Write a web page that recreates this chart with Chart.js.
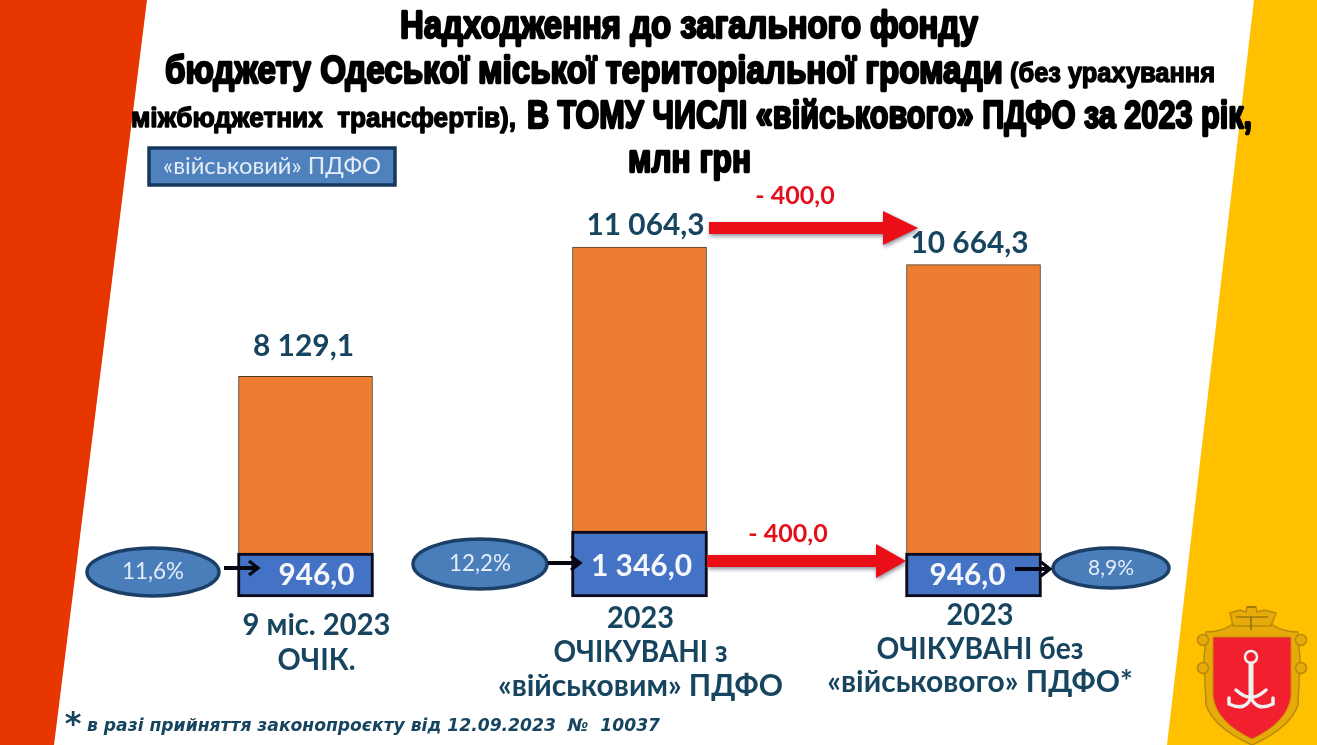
<!DOCTYPE html>
<html lang="uk">
<head>
<meta charset="utf-8">
<title>Надходження до загального фонду</title>
<script src="https://cdn.jsdelivr.net/npm/chart.js@4"></script>
<style>html,body{margin:0;padding:0;background:#fff;overflow:hidden}canvas{display:block}</style>
</head>
<body>
<canvas id="c" width="1317" height="745"></canvas>
<script>
const categories = [["9 міс. 2023", "ОЧІК."], ["2023", "ОЧІКУВАНІ з", "«військовим» ПДФО"], ["2023", "ОЧІКУВАНІ без", "«військового» ПДФО*"]];
const totalFund = [8129.1, 11064.3, 10664.3];
const militaryTax = [946.0, 1346.0, 946.0];
const militaryShare = ["11,6%", "12,2%", "8,9%"];
const changeLabel = "- 400,0";
const legendLabel = "«військовий» ПДФО";
const footnote = "в разі прийняття законопроєкту від 12.09.2023  №  10037";

const NAVY = "#17455f";
const LATO = "Lato, 'Open Sans', sans-serif";
const NARROW = "'Liberation Sans Narrow', 'Liberation Sans', sans-serif";
const TAX_AXIS_MIN = 146, TOTAL_AXIS_MIN = 3120;

const fmt = v => {
  const [a, b] = v.toFixed(1).split(".");
  return a.replace(/\B(?=(\d{3})+$)/g, " ") + "," + b;
};

function text(ctx, s, x, y, font, color, w, align) {
  ctx.font = font; ctx.fillStyle = color; ctx.textAlign = align || "center"; ctx.textBaseline = "alphabetic";
  if (w) ctx.fillText(s, x, y, w); else ctx.fillText(s, x, y);
}
function heavy(ctx, s, x, w, y, size, sw) {
  ctx.save();
  ctx.font = "bold " + size + "px " + NARROW;
  ctx.textAlign = "left"; ctx.textBaseline = "alphabetic";
  ctx.fillStyle = "#000"; ctx.strokeStyle = "#000"; ctx.lineWidth = sw; ctx.lineJoin = "bevel";
  ctx.strokeText(s, x, y, w);
  ctx.fillText(s, x, y, w);
  ctx.restore();
}
function ellipse(ctx, cx, cy, rx, ry) {
  ctx.beginPath(); ctx.ellipse(cx, cy, rx, ry, 0, 0, Math.PI * 2);
  ctx.fillStyle = "#4a7ebb"; ctx.fill();
  ctx.strokeStyle = "#1b3f66"; ctx.lineWidth = 3.5; ctx.stroke();
}
function bigArrow(ctx, x0, x1, tip, yc, hs, hh) {
  ctx.save();
  ctx.shadowColor = "rgba(40,40,70,.55)"; ctx.shadowBlur = 4; ctx.shadowOffsetY = 2; ctx.shadowOffsetX = 1;
  ctx.fillStyle = "#ea0f17";
  ctx.beginPath();
  ctx.moveTo(x0, yc - hs); ctx.lineTo(x1, yc - hs); ctx.lineTo(x1, yc - hh); ctx.lineTo(tip, yc);
  ctx.lineTo(x1, yc + hh); ctx.lineTo(x1, yc + hs); ctx.lineTo(x0, yc + hs); ctx.closePath(); ctx.fill();
  ctx.restore();
}
function smallArrow(ctx, x0, x1, y) {
  ctx.strokeStyle = "#060612"; ctx.lineWidth = 4; ctx.lineCap = "butt"; ctx.lineJoin = "miter";
  ctx.beginPath(); ctx.moveTo(x0, y); ctx.lineTo(x1 - 3, y); ctx.stroke();
  ctx.lineWidth = 3.2;
  ctx.beginPath(); ctx.moveTo(x1 - 10, y - 7); ctx.lineTo(x1 - 1, y); ctx.lineTo(x1 - 10, y + 7); ctx.stroke();
}
function crest(ctx) {
  ctx.save();
  ctx.fillStyle = "#e6ab0a"; ctx.strokeStyle = "#b98a0a"; ctx.lineWidth = 1.5;
  ctx.beginPath();
  ctx.moveTo(1206, 632); ctx.quadraticCurveTo(1222, 632, 1233, 624); ctx.lineTo(1271, 624);
  ctx.quadraticCurveTo(1282, 632, 1298, 632); ctx.lineTo(1300, 660); ctx.lineTo(1298, 705);
  ctx.quadraticCurveTo(1290, 728, 1252, 745); ctx.quadraticCurveTo(1214, 728, 1206, 705);
  ctx.lineTo(1204, 660); ctx.closePath(); ctx.fill(); ctx.stroke();
  [[1203, 640], [1301, 640], [1203, 668], [1301, 668]].forEach(p => {
    ctx.beginPath(); ctx.arc(p[0], p[1], 5.5, 0, Math.PI * 2); ctx.fill(); ctx.stroke();
  });
  ctx.beginPath();
  ctx.moveTo(1233, 626); ctx.lineTo(1230, 613); ctx.lineTo(1240, 610); ctx.lineTo(1246, 612); ctx.lineTo(1247, 607);
  ctx.lineTo(1256, 607); ctx.lineTo(1257, 612); ctx.lineTo(1264, 610); ctx.lineTo(1276, 613); ctx.lineTo(1271, 626);
  ctx.closePath(); ctx.fill(); ctx.stroke();
  ctx.strokeStyle = "#7c5e12"; ctx.lineWidth = 1.2;
  ctx.beginPath(); ctx.moveTo(1236, 617); ctx.lineTo(1268, 617); ctx.moveTo(1247, 607); ctx.lineTo(1256, 607); ctx.moveTo(1251, 617); ctx.lineTo(1251, 630); ctx.stroke();
  ctx.fillStyle = "#f2202e"; ctx.strokeStyle = "#c98a06"; ctx.lineWidth = 1;
  ctx.beginPath();
  ctx.moveTo(1213, 637); ctx.lineTo(1291, 637); ctx.lineTo(1291, 696);
  ctx.quadraticCurveTo(1288, 722, 1252, 739); ctx.quadraticCurveTo(1216, 722, 1213, 696);
  ctx.closePath(); ctx.fill(); ctx.stroke();
  ctx.strokeStyle = "#eef0f2"; ctx.lineCap = "round";
  ctx.lineWidth = 2.5; ctx.beginPath(); ctx.arc(1251, 657, 6, 0, Math.PI * 2); ctx.stroke();
  ctx.lineWidth = 5; ctx.beginPath(); ctx.moveTo(1251, 664); ctx.lineTo(1251, 697); ctx.stroke();
  ctx.lineWidth = 3.5;
  ctx.beginPath(); ctx.moveTo(1251, 697); ctx.quadraticCurveTo(1246, 712, 1229, 704); ctx.lineTo(1229, 698); ctx.stroke();
  ctx.beginPath(); ctx.moveTo(1251, 697); ctx.quadraticCurveTo(1256, 712, 1273, 704); ctx.lineTo(1273, 698); ctx.stroke();
  ctx.beginPath(); ctx.moveTo(1251, 697); ctx.quadraticCurveTo(1245, 698, 1236, 690); ctx.stroke();
  ctx.beginPath(); ctx.moveTo(1251, 697); ctx.quadraticCurveTo(1257, 698, 1266, 690); ctx.stroke();
  ctx.restore();
}

const backdrop = {
  id: "backdrop",
  beforeDraw(chart) {
    const ctx = chart.ctx;
    ctx.save();
    ctx.fillStyle = "#fff"; ctx.fillRect(0, 0, 1317, 745);
    ctx.fillStyle = "#e83600";
    ctx.beginPath(); ctx.moveTo(0, 0); ctx.lineTo(147, 0); ctx.lineTo(54, 745); ctx.lineTo(0, 745); ctx.closePath(); ctx.fill();
    ctx.fillStyle = "#ffc000";
    ctx.beginPath(); ctx.moveTo(1254, 0); ctx.lineTo(1317, 0); ctx.lineTo(1317, 745); ctx.lineTo(1167, 745); ctx.closePath(); ctx.fill();
    crest(ctx);

    heavy(ctx, "Надходження до загального фонду", 400, 578, 38, 39, 2.4);
    heavy(ctx, "бюджету Одеської міської територіальної громади", 165, 838, 83, 39, 2.4);
    heavy(ctx, "(без урахування", 1010, 205, 82, 28, 1.4);
    heavy(ctx, "міжбюджетних  трансфертів),", 131, 385, 127, 28, 1.4);
    heavy(ctx, "В ТОМУ ЧИСЛІ «військового» ПДФО за 2023 рік,", 527, 725, 128, 38, 2.4);
    heavy(ctx, "млн грн", 628, 123, 172, 38, 2.4);

    ctx.fillStyle = "#4f81bd"; ctx.strokeStyle = "#17375e"; ctx.lineWidth = 3.5;
    ctx.beginPath(); ctx.rect(149, 148, 246, 37); ctx.fill(); ctx.stroke();
    text(ctx, legendLabel, 272, 174, "24px " + LATO, "#e4ecf7", 218);
    ctx.restore();
  },
  afterDatasetsDraw(chart) {
    const ctx = chart.ctx, x = chart.scales.x;
    const cx = i => x.getPixelForTick(i);
    ctx.save();
    bigArrow(ctx, 709, 883, 918, 228, 6, 17);
    bigArrow(ctx, 707, 876, 906, 561, 6, 17);
    text(ctx, changeLabel, 795, 204, "bold 25px " + LATO, "#e3101c", 80);
    text(ctx, changeLabel, 788, 542, "bold 25px " + LATO, "#e3101c", 80);

    const topX = [cx(0) - 2, cx(1) + 6, cx(2) - 4], topY = [356, 235, 253], topW = [101, 118, 118];
    const midX = [cx(0) + 11, cx(1) + 2, cx(2) - 6], midY = [585, 576, 585], midW = [76, 101, 76];
    totalFund.forEach((v, i) => text(ctx, fmt(v), topX[i], topY[i], "bold 30px " + LATO, NAVY, topW[i]));
    militaryTax.forEach((v, i) => text(ctx, fmt(v), midX[i], midY[i], "bold 31px " + LATO, "#f6f8fc", midW[i]));

    const ell = [[153, 572, 66, 24], [480, 564, 67, 25], [1111, 568, 58, 20]];
    const shareW = [62, 62, 50], shareS = [23, 23, 21];
    ell.forEach((e, i) => {
      ellipse(ctx, e[0], e[1], e[2], e[3]);
      text(ctx, militaryShare[i], e[0], e[1] + 7, shareS[i] + "px " + LATO, "#e4ecf7", shareW[i]);
    });
    smallArrow(ctx, 224, 259, 568);
    smallArrow(ctx, 548, 581, 563);
    smallArrow(ctx, 1015, 1051, 569);

    const lineY = [[635, 670], [628, 662, 696], [625, 659, 692]];
    const lineW = [[148, 78], [67, 174, 290], [67, 207, 306]];
    const lineX = [11, 1, 6.5];
    categories.forEach((lines, i) => lines.forEach((l, j) =>
      text(ctx, l, cx(i) + lineX[i], lineY[i][j], "bold 30px " + LATO, NAVY, lineW[i][j])));

    text(ctx, "*", 73, 734, "bold italic 32px 'DejaVu Sans'", NAVY);
    text(ctx, footnote, 87, 731, "bold italic 17.2px 'DejaVu Sans'", NAVY, 573, "left");
    ctx.restore();
  }
};

new Chart(document.getElementById("c"), {
  type: "bar",
  data: {
    labels: categories,
    datasets: [
      { label: "«військовий» ПДФО", data: militaryTax, yAxisID: "yTax", order: 1, grouped: false, clip: false, base: TAX_AXIS_MIN,
        backgroundColor: "#4472c4", borderColor: "#0a0a1c", borderWidth: 3, borderSkipped: false, barThickness: 136 },
      { label: "Надходження разом", data: totalFund, yAxisID: "yTotal", order: 2, grouped: false, base: TOTAL_AXIS_MIN,
        backgroundColor: "#ed7d31", borderColor: "#4b3a2a", borderWidth: 1, borderSkipped: false, barThickness: 134 }
    ]
  },
  options: {
    responsive: false,
    animation: false,
    layout: { padding: { left: 138.5, right: 176.5, top: 197, bottom: 148 } },
    plugins: { legend: { display: false }, title: { display: false }, tooltip: { enabled: false } },
    scales: {
      x: { display: false, grid: { display: false } },
      yTotal: { display: false, min: TOTAL_AXIS_MIN, max: 12200, grid: { display: false } },
      yTax: { display: false, min: TAX_AXIS_MIN, max: 7419, grid: { display: false } }
    }
  },
  plugins: [backdrop]
});
</script>
</body>
</html>
